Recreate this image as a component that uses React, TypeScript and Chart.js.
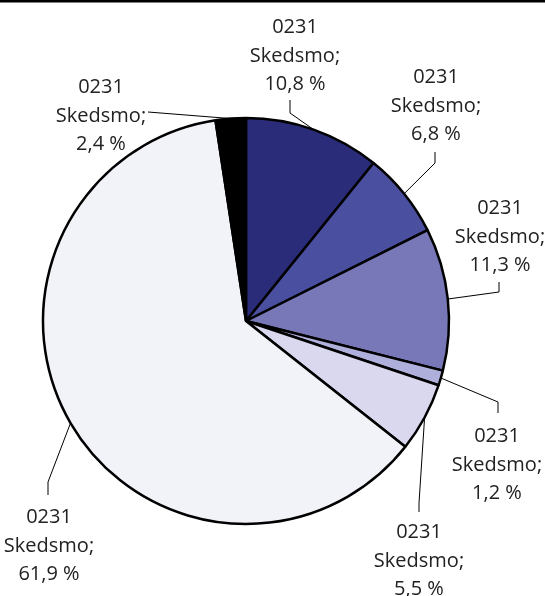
import React, { useEffect, useRef } from "react";
import { Chart, registerables } from "chart.js";

Chart.register(...registerables);

const categories = [
  "0231 Skedsmo;",
  "0231 Skedsmo;",
  "0231 Skedsmo;",
  "0231 Skedsmo;",
  "0231 Skedsmo;",
  "0231 Skedsmo;",
  "0231 Skedsmo;",
];
const values = [10.8, 6.8, 11.3, 1.2, 5.5, 61.9, 2.4];
const valueLabels = ["10,8 %", "6,8 %", "11,3 %", "1,2 %", "5,5 %", "61,9 %", "2,4 %"];
const colors = ["#2A2C79", "#4B4FA0", "#7878B8", "#AFAFDB", "#D9D8EE", "#F2F3F9", "#000000"];

// label layout: text center x, first baseline y, leader bend points (from label toward pie)
const labelLayout = [
  { x: 295, y: 33, bends: [[290, 100], [290, 113]] },
  { x: 436, y: 83, bends: [[435, 152], [435, 163]] },
  { x: 500, y: 214, bends: [[499, 282], [499, 292]] },
  { x: 497, y: 442, bends: [[498, 413], [498, 402]] },
  { x: 419, y: 538, bends: [[419, 512], [419, 503]] },
  { x: 49, y: 523, bends: [[48, 495], [48, 482]] },
  { x: 101, y: 93, bends: [[148, 112]] },
];

const labelPlugin = {
  id: "pieLabels",
  afterDraw(chart: any) {
    const ctx = chart.ctx;
    const meta = chart.getDatasetMeta(0);
    ctx.save();
    // top rule
    ctx.fillStyle = "#000";
    ctx.fillRect(0, 0, chart.width, 2.5);
    ctx.font = "20px 'Open Sans'";
    ctx.textAlign = "center";
    ctx.textBaseline = "alphabetic";
    meta.data.forEach((arc: any, i: number) => {
      const { x, y, startAngle, endAngle, outerRadius } = arc.getProps(
        ["x", "y", "startAngle", "endAngle", "outerRadius"],
        true
      );
      const mid = (startAngle + endAngle) / 2;
      const ax = x + Math.cos(mid) * outerRadius;
      const ay = y + Math.sin(mid) * outerRadius;
      const lay = labelLayout[i];
      ctx.strokeStyle = "#000";
      ctx.lineWidth = 1;
      ctx.beginPath();
      ctx.moveTo(lay.bends[0][0], lay.bends[0][1]);
      for (let k = 1; k < lay.bends.length; k++) ctx.lineTo(lay.bends[k][0], lay.bends[k][1]);
      ctx.lineTo(ax, ay);
      ctx.stroke();
      ctx.fillStyle = "#222";
      const parts = categories[i].split(" ");
      const lines = [parts[0], parts.slice(1).join(" "), valueLabels[i]];
      lines.forEach((t, k) => ctx.fillText(t, lay.x, lay.y + k * 28.5));
    });
    ctx.restore();
  },
};

export default function App() {
  const ref = useRef<HTMLCanvasElement>(null);
  useEffect(() => {
    document.body.style.margin = "0";
    const chart = new Chart(ref.current!, {
      type: "pie",
      data: {
        labels: categories,
        datasets: [
          {
            data: values,
            backgroundColor: colors,
            borderColor: "#000",
            borderWidth: 2.5,
          },
        ],
      },
      options: {
        responsive: false,
        animation: false,
        radius: 203,
        layout: { padding: { left: 42, right: 95, top: 117, bottom: 71 } },
        plugins: { legend: { display: false }, tooltip: { enabled: false } },
      } as any,
      plugins: [labelPlugin],
    });
    return () => chart.destroy();
  }, []);
  return <canvas ref={ref} width={545} height={596} style={{ display: "block" }} />;
}
